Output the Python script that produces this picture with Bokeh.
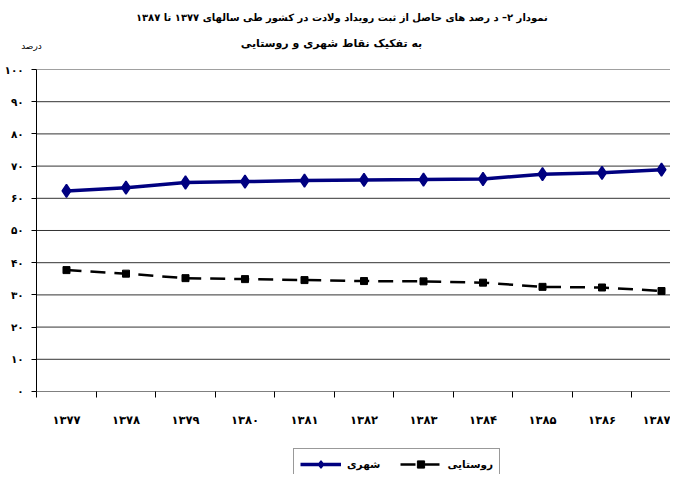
from bokeh.plotting import figure
from bokeh.models import FixedTicker, Label, Legend, LegendItem, Range1d
from bokeh.embed import file_html
from bokeh.resources import INLINE

# ---- data ----
years = ["۱۳۷۷", "۱۳۷۸", "۱۳۷۹", "۱۳۸۰", "۱۳۸۱", "۱۳۸۲",
         "۱۳۸۳", "۱۳۸۴", "۱۳۸۵", "۱۳۸۶", "۱۳۸۷"]
urban = [62.3, 63.3, 64.9, 65.2, 65.5, 65.7, 65.8, 66.0, 67.5, 67.9, 68.9]
rural = [37.7, 36.6, 35.2, 34.9, 34.6, 34.3, 34.2, 33.8, 32.5, 32.3, 31.2]
series_names = ["شهری", "روستایی"]
y_ticks = [0, 10, 20, 30, 40, 50, 60, 70, 80, 90, 100]
y_tick_labels = ["۰", "۱۰", "۲۰", "۳۰", "۴۰", "۵۰", "۶۰", "۷۰", "۸۰", "۹۰", "۱۰۰"]
title_line1 = "نمودار  ۲– د رصد های حاصل از ثبت رویداد ولادت در کشور طی سالهای ۱۳۷۷ تا ۱۳۸۷"
title_line2 = "به تفکیک نقاط شهری و روستایی"
y_unit = "درصد"

FONT = "DejaVu Sans"
W, H = 670, 474
idx = list(range(len(years)))
n = len(years)

# frame covers the whole canvas; axes are pinned at fixed data locations
X0, X1 = -1.109, 10.151
Y0, Y1 = -25.78, 121.43

p = figure(width=W, height=H, output_backend="svg", toolbar_location=None,
           x_range=Range1d(X0, X1), y_range=Range1d(Y0, Y1),
           min_border_left=0, min_border_right=0, min_border_top=0,
           min_border_bottom=0, background_fill_color="white",
           border_fill_color="white")
p.outline_line_color = None
p.xgrid.visible = False
p.ygrid.visible = False

# horizontal gridlines (10..90 dark, top border at 100 grey), from the plot-area left edge
inner = y_ticks[1:-1]
p.segment(x0=[-0.5] * len(inner), y0=inner, x1=[X1] * len(inner), y1=inner,
          line_color="#333333", line_width=1)
p.segment(x0=[-0.5], y0=[y_ticks[-1]], x1=[X1], y1=[y_ticks[-1]],
          line_color="#a0a0a0", line_width=1)

# y axis
ya = p.yaxis[0]
ya.fixed_location = -0.5
ya.bounds = (y_ticks[0], y_ticks[-1])
ya.ticker = FixedTicker(ticks=y_ticks)
ya.major_label_overrides = {t: l for t, l in zip(y_ticks, y_tick_labels)}
ya.major_tick_in = 0
ya.major_tick_out = 5
ya.minor_tick_out = 0
ya.minor_tick_in = 0
ya.major_label_standoff = 8
ya.axis_line_color = "black"
ya.major_tick_line_color = "black"
ya.major_label_text_font = FONT
ya.major_label_text_font_style = "bold"
ya.major_label_text_font_size = "10.5px"
ya.major_label_text_color = "black"

# x axis
xa = p.xaxis[0]
xa.fixed_location = 0
xa.bounds = (-0.5, X1)
xa.ticker = FixedTicker(ticks=idx, minor_ticks=[i - 0.5 for i in range(n + 1)])
xa.major_label_overrides = {i: y for i, y in zip(idx, years)}
xa.major_tick_in = 0
xa.major_tick_out = 0
xa.minor_tick_in = 0
xa.minor_tick_out = 6
xa.minor_tick_line_color = "black"
xa.axis_line_color = "#808080"
xa.major_label_standoff = 16
xa.major_label_text_font = FONT
xa.major_label_text_font_style = "bold"
xa.major_label_text_font_size = "11.5px"
xa.major_label_text_color = "black"

# series
r1 = p.line(idx, urban, line_color="#000080", line_width=3.5)
s1 = p.scatter(idx, urban, marker="diamond", size=13, line_width=1.5,
               fill_color="#000080", line_color="#000080")
r2 = p.line(idx, rural, line_color="black", line_width=2.5, line_dash="15 9")
s2 = p.scatter(idx, rural, marker="square", size=7,
               fill_color="black", line_color="black")

legend = Legend(items=[LegendItem(label=series_names[0], renderers=[r1, s1]),
                       LegendItem(label=series_names[1], renderers=[r2, s2])],
                orientation="horizontal", location=(293, -6),
                glyph_width=41, glyph_height=18, label_standoff=6, spacing=20,
                padding=6, margin=0, border_line_color="#333333",
                border_line_width=1, background_fill_color="white",
                label_text_font=FONT, label_text_font_style="bold",
                label_text_font_size="10.5px", label_text_color="black")
p.add_layout(legend, "center")

# titles and unit (screen units from the frame's bottom-left)
p.add_layout(Label(x=343, y=H - 17, x_units="screen", y_units="screen",
                   text=title_line1, text_align="center", text_baseline="middle",
                   text_font=FONT, text_font_style="bold", text_font_size="10px",
                   text_color="black"))
p.add_layout(Label(x=331, y=H - 43, x_units="screen", y_units="screen",
                   text=title_line2, text_align="center", text_baseline="middle",
                   text_font=FONT, text_font_style="bold", text_font_size="11px",
                   text_color="black"))
p.add_layout(Label(x=31, y=H - 45, x_units="screen", y_units="screen",
                   text=y_unit, text_align="center", text_baseline="middle",
                   text_font=FONT, text_font_size="9px", text_color="black"))

open("out.html", "w").write(file_html(p, INLINE))
